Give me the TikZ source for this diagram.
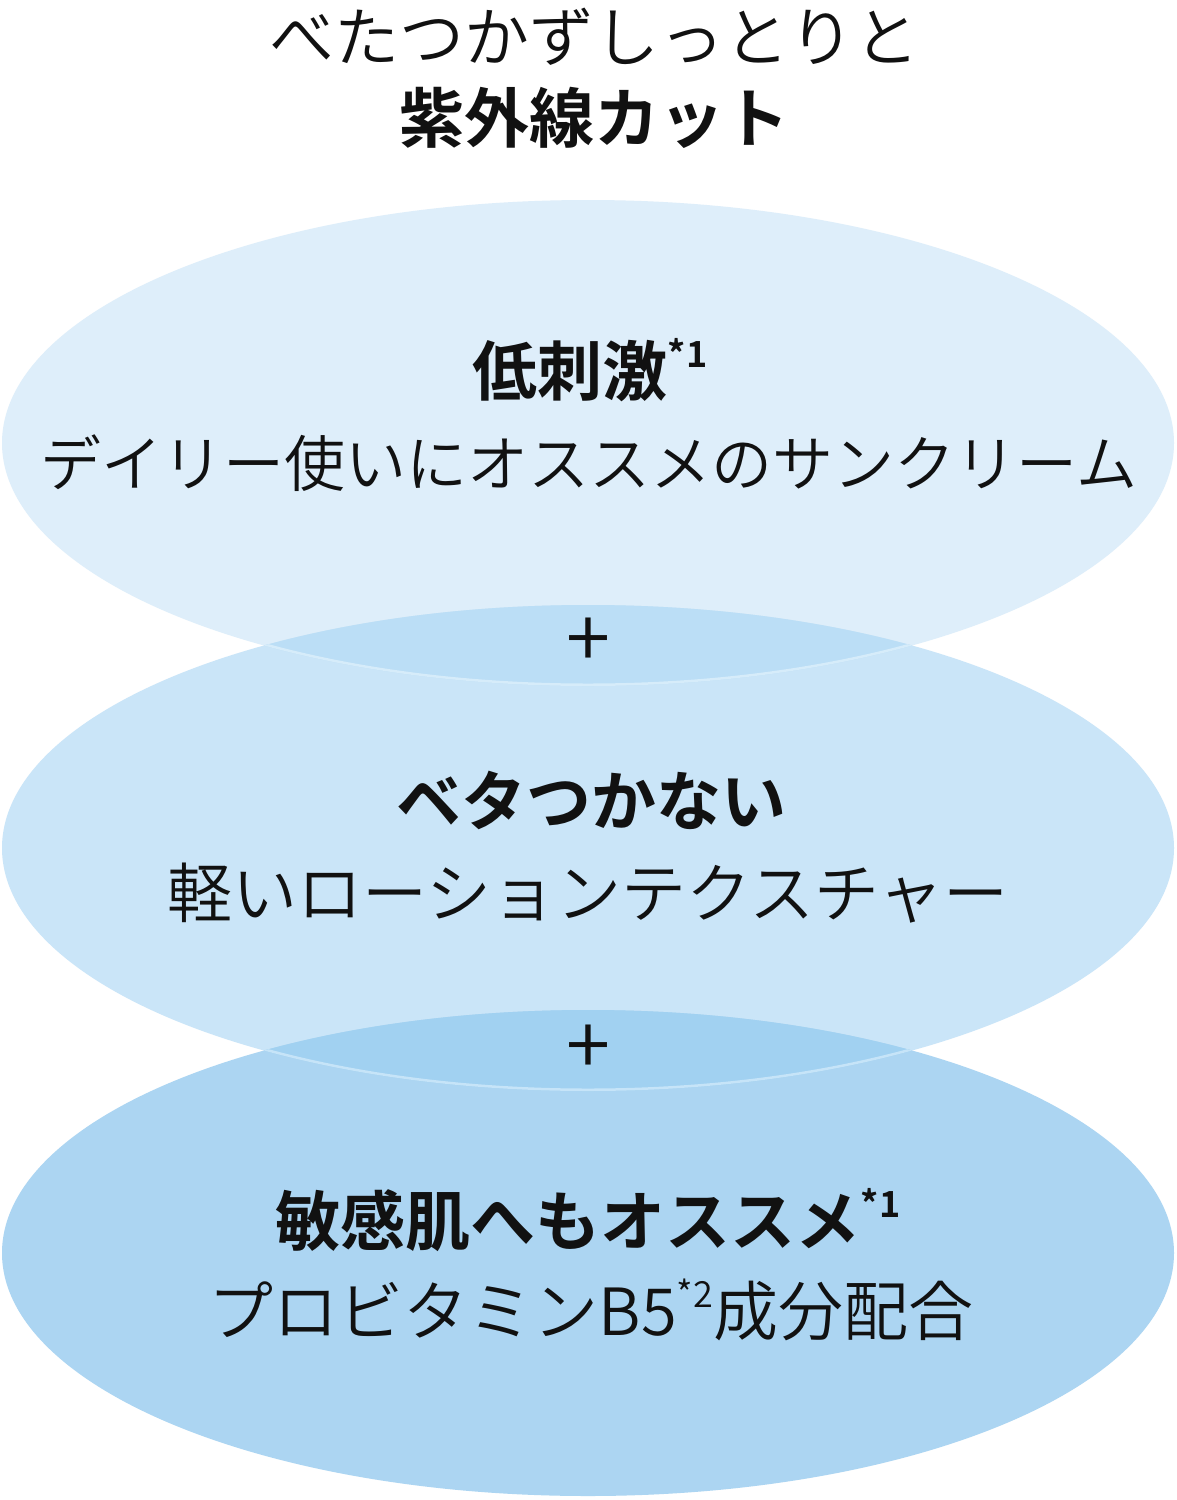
\documentclass[tikz,border=0pt]{standalone}
\usepackage{fontspec}
\setmainfont{Noto Sans CJK JP}[UprightFont=* DemiLight, BoldFont=* Bold]
\definecolor{ellA}{HTML}{DEEEFA}
\definecolor{ellB}{HTML}{CAE5F8}
\definecolor{ellC}{HTML}{ACD5F2}
\definecolor{ovAB}{HTML}{BBDEF6}
\definecolor{ovBC}{HTML}{A1D1F1}
\definecolor{rimA}{HTML}{D6ECFA}
\definecolor{rimB}{HTML}{C6E4F8}
\definecolor{ink}{HTML}{111111}
\newcommand{\supmark}[1]{\raisebox{0.42em}{\fontsize{36}{36}\selectfont #1}}
\begin{document}
\begin{tikzpicture}[x=1pt,y=-1pt,
  headline/.style={text=ink,inner sep=0pt,font=\fontsize{65}{65}\selectfont},
  headbold/.style={text=ink,inner sep=0pt,font=\fontsize{65}{65}\selectfont\bfseries},
  bodyline/.style={text=ink,inner sep=0pt,font=\fontsize{#1}{#1}\selectfont},
  bodyline/.default=65,
  plussign/.style={text=ink,inner sep=0pt,font=\fontsize{80}{80}\selectfont}]
\useasboundingbox (0,0) rectangle (1176,1500);
\fill[white] (0,0) rectangle (1176,1500);
% ellipses
\fill[ellA] (588,443) ellipse [x radius=586, y radius=243];
\fill[ellB] (588,848) ellipse [x radius=586, y radius=243];
\fill[ellC] (588,1253) ellipse [x radius=586, y radius=243];
\begin{scope}
  \clip (588,443) ellipse [x radius=586, y radius=243];
  \fill[ovAB] (588,848) ellipse [x radius=586, y radius=243];
  \clip (588,848) ellipse [x radius=586, y radius=243];
  \draw[rimA, line width=5] (588,443) ellipse [x radius=586, y radius=243];
\end{scope}
\begin{scope}
  \clip (588,848) ellipse [x radius=586, y radius=243];
  \fill[ovBC] (588,1253) ellipse [x radius=586, y radius=243];
  \clip (588,1253) ellipse [x radius=586, y radius=243];
  \draw[rimB, line width=5] (588,848) ellipse [x radius=586, y radius=243];
\end{scope}
% title
\node[headline] (t1) at (594,37) {べたつかずしっとりと};
\node[headbold] (t2) at (594,118) {紫外線カット};
% top ellipse
\node[headbold] (a1) at (590,370) {低刺激\supmark{*1}};
\node[bodyline=61] (a2) at (589,463) {デイリー使いにオススメのサンクリーム};
\node[plussign] (p1) at (588,643) {+};
% middle ellipse
\node[headbold] (b1) at (591,800) {ベタつかない};
\node[bodyline] (b2) at (588,893) {軽いローションテクスチャー};
\node[plussign] (p2) at (588,1050) {+};
% bottom ellipse
\node[headbold] (c1) at (588,1220) {敏感肌へもオススメ\supmark{*1}};
\node[bodyline] (c2) at (591,1310) {プロビタミンB5\supmark{*2}成分配合};
\end{tikzpicture}
\end{document}
